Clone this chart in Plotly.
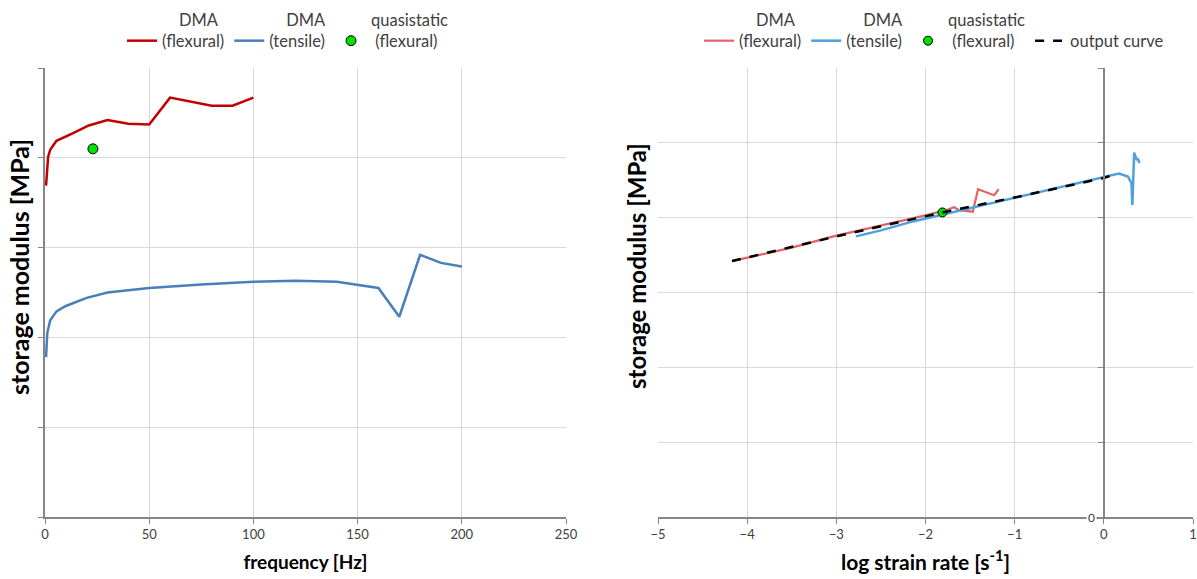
import plotly.graph_objects as go

# ---------------- data: left panel (frequency sweep) ----------------
freq_flex = [0.5, 1.5, 2.5, 5.5, 13, 21, 30, 40, 50, 60, 80, 90, 100]
mod_flex = [3.69, 4.01, 4.09, 4.19, 4.27, 4.36, 4.42, 4.38, 4.37, 4.67, 4.58, 4.58, 4.67]

freq_tens = [0.5, 1.1, 2.5, 5.5, 10, 20, 30, 50, 75, 100, 120, 140, 160, 170, 180, 190, 200]
mod_tens = [1.78, 2.05, 2.19, 2.29, 2.35, 2.44, 2.50, 2.55, 2.59, 2.62, 2.63, 2.62, 2.55, 2.23, 2.92, 2.83, 2.79]

freq_qs = [23]
mod_qs = [4.10]

# ---------------- data: right panel (log strain rate) ----------------
lsr_flex = [-4.17, -3.5, -3.0, -2.5, -2.0, -1.77, -1.68, -1.62, -1.47, -1.41, -1.29, -1.23, -1.18]
mod_flex_r = [3.42, 3.60, 3.76, 3.89, 4.03, 4.10, 4.14, 4.10, 4.08, 4.38, 4.33, 4.30, 4.38]

lsr_tens = [-2.78, -2.5, -2.14, -1.5, -1.0, -0.5, 0.0, 0.17, 0.27, 0.31, 0.32, 0.34, 0.37, 0.38, 0.40]
mod_tens_r = [3.75, 3.83, 3.95, 4.13, 4.27, 4.41, 4.55, 4.59, 4.55, 4.46, 4.17, 4.87, 4.77, 4.79, 4.73]

lsr_qs = [-1.81]
mod_qs_r = [4.07]

lsr_out = [-4.17, -3.0, -1.81, -1.0, 0.0, 0.12]
mod_out = [3.42, 3.75, 4.07, 4.27, 4.53, 4.58]

x_ticks_left = [0, 50, 100, 150, 200, 250]
x_ticks_right = [-5, -4, -3, -2, -1, 0, 1]

FONT = "Lato, 'Liberation Sans', sans-serif"
GRID = "#D9D9D9"
AXIS = "#868686"
TXT = "#404040"
NB = "&nbsp;"

fig = go.Figure()

# left traces
fig.add_trace(go.Scatter(x=freq_flex, y=mod_flex, mode="lines",
                         line=dict(color="#C00000", width=2.5),
                         name=NB * 4 + "DMA<br>(flexural)", legend="legend",
                         xaxis="x", yaxis="y"))
fig.add_trace(go.Scatter(x=freq_tens, y=mod_tens, mode="lines",
                         line=dict(color="#4A7EBB", width=2.5),
                         name=NB * 4 + "DMA<br>(tensile)", legend="legend",
                         xaxis="x", yaxis="y"))
fig.add_trace(go.Scatter(x=freq_qs, y=mod_qs, mode="markers",
                         marker=dict(color="#00E000", size=10, line=dict(color="black", width=1)),
                         name="quasistatic<br>" + NB + "(flexural)", legend="legend",
                         xaxis="x", yaxis="y"))

# right traces
fig.add_trace(go.Scatter(x=lsr_flex, y=mod_flex_r, mode="lines",
                         line=dict(color="#E06464", width=2.2),
                         name=NB * 4 + "DMA<br>(flexural)", legend="legend2",
                         xaxis="x2", yaxis="y2"))
fig.add_trace(go.Scatter(x=lsr_tens, y=mod_tens_r, mode="lines",
                         line=dict(color="#4FA0DC", width=2.5),
                         name=NB * 4 + "DMA<br>(tensile)", legend="legend2",
                         xaxis="x2", yaxis="y2"))
fig.add_trace(go.Scatter(x=lsr_qs, y=mod_qs_r, mode="markers",
                         marker=dict(color="#00E000", size=9, line=dict(color="black", width=1)),
                         name="quasistatic<br>" + NB + "(flexural)", legend="legend2",
                         xaxis="x2", yaxis="y2"))
fig.add_trace(go.Scatter(x=lsr_out, y=mod_out, mode="lines",
                         line=dict(color="black", width=2.5, dash="dash"),
                         name=NB + "<br>output curve", legend="legend2",
                         xaxis="x2", yaxis="y2"))

W, H = 1197, 579
ml, mr, mt, mb = 45, 4, 68, 62
pw = W - ml - mr
ph = H - mt - mb
left_dom = [0, (566 - ml) / pw]
right_dom = [(658 - ml) / pw, 1.0]
pos_y2 = right_dom[0] + (right_dom[1] - right_dom[0]) * 5 / 6

legend_common = dict(orientation="h", font=dict(family=FONT, size=16.5, color=TXT),
                     bgcolor="rgba(0,0,0,0)", valign="bottom", itemwidth=30,
                     yanchor="top", y=1 + (mt - 2) / ph, xanchor="center", tracegroupgap=0)

fig.update_layout(
    width=W, height=H,
    margin=dict(l=ml, r=mr, t=mt, b=mb, autoexpand=False),
    paper_bgcolor="white", plot_bgcolor="white",
    font=dict(family=FONT, color=TXT),
    showlegend=True,
    legend=dict(**legend_common, x=(288 - ml) / pw),
    legend2=dict(**legend_common, x=(934 - ml) / pw),
    xaxis=dict(domain=left_dom, range=[0, 250], tickvals=x_ticks_left,
               showgrid=True, gridcolor=GRID, gridwidth=1,
               showline=True, linecolor=AXIS, linewidth=1.5,
               ticks="outside", ticklen=5, tickcolor=AXIS, automargin=False,
               zeroline=False, tickfont=dict(size=13, color=TXT, family=FONT),
               title=dict(text="<b>frequency [Hz]</b>", font=dict(size=19, color="black", family=FONT), standoff=14),
               anchor="y"),
    yaxis=dict(domain=[0, 1], range=[0, 5], dtick=1, tick0=0,
               showgrid=True, gridcolor=GRID, gridwidth=1,
               showline=True, linecolor=AXIS, linewidth=1.5,
               ticks="outside", ticklen=5, tickcolor=AXIS, automargin=False,
               showticklabels=False, zeroline=False, anchor="x"),
    xaxis2=dict(domain=right_dom, range=[-5, 1], tickvals=x_ticks_right,
                showgrid=True, gridcolor=GRID, gridwidth=1,
                showline=True, linecolor=AXIS, linewidth=1.5,
                ticks="outside", ticklen=5, tickcolor=AXIS, automargin=False,
                zeroline=False, tickfont=dict(size=13, color=TXT, family=FONT),
                title=dict(text="<b>log strain rate [s<sup>-1</sup>]</b>", font=dict(size=21, color="black", family=FONT), standoff=14),
                anchor="y2"),
    yaxis2=dict(domain=[0, 1], range=[0, 6], dtick=1, tick0=0,
                showgrid=True, gridcolor=GRID, gridwidth=1,
                showline=True, linecolor=AXIS, linewidth=1.5,
                ticks="outside", ticklen=5, tickcolor=AXIS, automargin=False,
                showticklabels=False, zeroline=False,
                anchor="free", position=pos_y2),
    annotations=[
        dict(text="<b>storage modulus [MPa]</b>", xref="paper", yref="paper",
             x=(19 - ml) / pw, y=(517 - 267) / ph, textangle=-90, showarrow=False,
             font=dict(size=25, color="black", family=FONT), xanchor="center", yanchor="middle"),
        dict(text="<b>storage modulus [MPa]</b>", xref="paper", yref="paper",
             x=(636 - ml) / pw, y=(517 - 266) / ph, textangle=-90, showarrow=False,
             font=dict(size=24, color="black", family=FONT), xanchor="center", yanchor="middle"),
        dict(text="0", xref="x2", yref="y2", x=0, y=0, xanchor="right", yanchor="middle",
             xshift=-7, showarrow=False, bgcolor="white",
             font=dict(size=12, color=TXT, family=FONT)),
    ],
)

fig.write_html("out.html", config={"displayModeBar": False},
               post_script="document.body.style.margin='0px';")
